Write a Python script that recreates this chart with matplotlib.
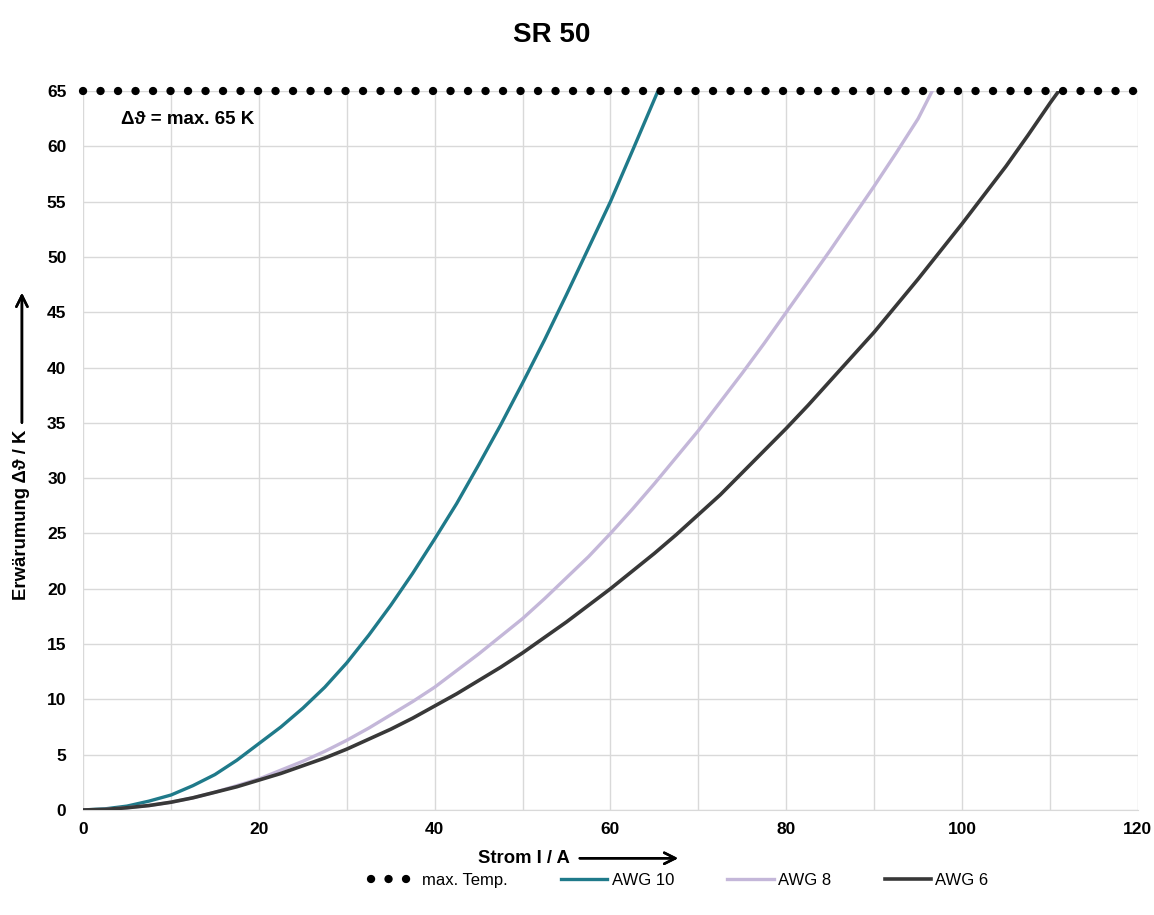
import matplotlib.pyplot as plt
from matplotlib.ticker import MultipleLocator

plt.rcParams['font.family'] = ['Liberation Sans', 'DejaVu Sans']

# Werte (Strom in A, Erwaermung in K)
strom_awg10 = [0, 2.5, 5, 7.5, 10, 12.5, 15, 17.5, 20, 22.5, 25, 27.5, 30, 32.5, 35,
               37.5, 40, 42.5, 45, 47.5, 50, 52.5, 55, 57.5, 60, 62.5, 65.4]
temp_awg10 = [0, 0.1, 0.35, 0.8, 1.35, 2.2, 3.2, 4.5, 6.0, 7.5, 9.2, 11.1, 13.3, 15.8,
              18.5, 21.4, 24.5, 27.7, 31.2, 34.8, 38.6, 42.5, 46.6, 50.8, 55.0, 59.6, 65]

strom_awg8 = [0, 2.5, 5, 7.5, 10, 12.5, 15, 17.5, 20, 22.5, 25, 27.5, 30, 32.5, 35,
              37.5, 40, 42.5, 45, 47.5, 50, 52.5, 55, 57.5, 60, 62.5, 65, 67.5, 70,
              72.5, 75, 77.5, 80, 82.5, 85, 87.5, 90, 92.5, 95, 96.6]
temp_awg8 = [0, 0.05, 0.2, 0.4, 0.7, 1.1, 1.6, 2.2, 2.8, 3.6, 4.4, 5.3, 6.3, 7.4, 8.6,
             9.8, 11.1, 12.6, 14.1, 15.7, 17.3, 19.1, 21.0, 22.9, 25.0, 27.2, 29.5,
             31.9, 34.3, 36.9, 39.5, 42.2, 45.0, 47.8, 50.6, 53.5, 56.4, 59.4, 62.5, 65]

strom_awg6 = [0, 2.5, 5, 7.5, 10, 12.5, 15, 17.5, 20, 22.5, 25, 27.5, 30, 32.5, 35,
              37.5, 40, 42.5, 45, 47.5, 50, 52.5, 55, 57.5, 60, 62.5, 65, 67.5, 70,
              72.5, 75, 77.5, 80, 82.5, 85, 87.5, 90, 92.5, 95, 97.5, 100, 102.5,
              105, 107.5, 110, 111]
temp_awg6 = [0, 0.05, 0.2, 0.4, 0.7, 1.1, 1.6, 2.1, 2.7, 3.3, 4.0, 4.7, 5.5, 6.4, 7.3,
             8.3, 9.4, 10.5, 11.7, 12.9, 14.2, 15.6, 17.0, 18.5, 20.0, 21.6, 23.2,
             24.9, 26.7, 28.5, 30.5, 32.5, 34.5, 36.6, 38.8, 41.0, 43.2, 45.6, 48.0,
             50.5, 53.0, 55.6, 58.2, 61.0, 63.9, 65]

max_strom = [0, 120]
max_temp = [65, 65]

fig = plt.figure(figsize=(11.54, 9.15), dpi=100)
ax = fig.add_axes([0.072, 0.1148, 0.914, 0.7857])

ax.plot(max_strom, max_temp, color='black', lw=6, linestyle=(0, (0.01, 2.09)),
        dash_capstyle='round', clip_on=False, label='max. Temp.', zorder=4)
ax.plot(strom_awg10, temp_awg10, color='#1f7a8a', lw=2.4, label='AWG 10', zorder=3)
ax.plot(strom_awg8, temp_awg8, color='#c4b7d9', lw=2.4, label='AWG 8', zorder=3)
ax.plot(strom_awg6, temp_awg6, color='#383838', lw=2.6, label='AWG 6', zorder=3)

ax.set_xlim(0, 120)
ax.set_ylim(0, 65)
ax.xaxis.set_major_locator(MultipleLocator(20))
ax.xaxis.set_minor_locator(MultipleLocator(10))
ax.yaxis.set_major_locator(MultipleLocator(5))
ax.grid(which='both', color='#d9d9d9', lw=1)
ax.set_axisbelow(True)
for s in ['top', 'right', 'left']:
    ax.spines[s].set_visible(False)
ax.spines['bottom'].set_color('#d9d9d9')
ax.tick_params(which='both', length=0, labelsize=12.5)
ax.tick_params(axis='y', pad=12)
ax.tick_params(axis='x', pad=9)
for lab in ax.get_xticklabels() + ax.get_yticklabels():
    lab.set_fontweight('bold')

ax.text(4.3, 62.4, 'Δϑ = max. 65 K', fontsize=13.5, fontweight='bold', va='center')

fig.text(0.478, 0.962, 'SR 50', ha='center', va='center', fontsize=20, fontweight='bold')

# Achsenbeschriftungen mit Pfeil
fig.text(0.454, 0.062, 'Strom I / A', ha='center', va='center', fontsize=13.3, fontweight='bold')
fig.add_artist(plt.annotate('', xy=(0.59, 0.062), xytext=(0.5, 0.062),
                            xycoords='figure fraction',
                            arrowprops=dict(arrowstyle='->', lw=1.8, color='black',
                                            mutation_scale=20)))
fig.text(0.019, 0.437, 'Erwärumung Δϑ / K', ha='center', va='center', rotation=90,
         fontsize=13.3, fontweight='bold')
fig.add_artist(plt.annotate('', xy=(0.019, 0.683), xytext=(0.019, 0.535),
                            xycoords='figure fraction',
                            arrowprops=dict(arrowstyle='->', lw=1.8, color='black',
                                            mutation_scale=20)))

fig.legend(loc='center', bbox_to_anchor=(0.589, 0.038), ncol=4, frameon=False,
           fontsize=12, handlelength=2.8, handletextpad=0.25, columnspacing=3.2)

fig.savefig('out.png', dpi=100)
